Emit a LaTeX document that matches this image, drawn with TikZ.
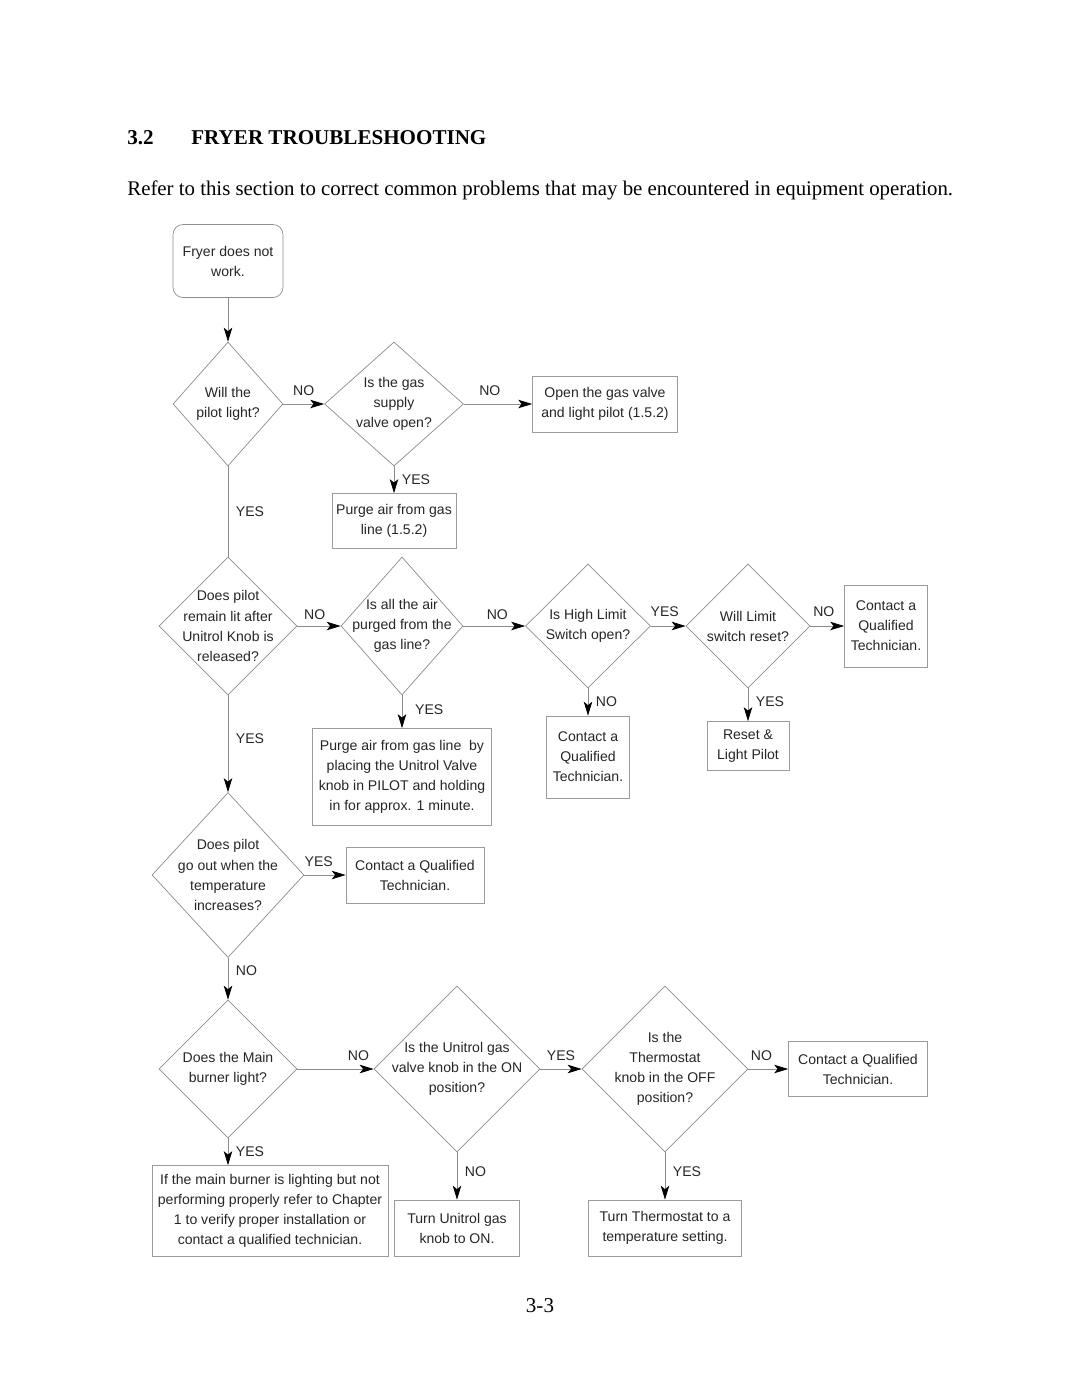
\documentclass[tikz,border=0pt]{standalone}
\usepackage{fontspec}
\setmainfont{Liberation Serif}
\newfontfamily\chartfont{Liberation Sans}
\usetikzlibrary{arrows.meta, shapes.geometric}

\definecolor{linegray}{RGB}{140,140,140}
\definecolor{boxgray}{RGB}{155,155,155}

\begin{document}
\begin{tikzpicture}[
            x = 0.02cm, y = -0.02cm, % one unit = one pixel of the page
            > = {Stealth[black, length=2.8mm, width=1.7mm, inset=0.7mm]}, % arrow head style
            every node/.style = {font=\chartfont\fontsize{8}{11.4}\selectfont, text=black!85},
            thin % line style
        ]

        \tikzstyle{decision}=[
            draw = linegray,
            shape = diamond,
            align = center,
            inner sep = -14pt
        ]
        \tikzstyle{action}=[
            draw = boxgray,
            rectangle,
            align = center,
            inner sep = 2pt
        ]
        \tikzstyle{flow}=[draw = linegray, ->]

        \useasboundingbox (0,0) rectangle (1080,1397);

        % heading
        \node[anchor=base west, inner sep=0pt, text=black, font=\bfseries\fontsize{12}{14}\selectfont] (secnum) at (127,144) {3.2};
        \node[anchor=base west, inner sep=0pt, text=black, font=\bfseries\fontsize{12}{14}\selectfont] (title) at (191,144) {FRYER TROUBLESHOOTING};
        \node[anchor=base west, inner sep=0pt, text=black, font=\fontsize{11.86}{14}\selectfont] (intro) at (127,195) {Refer to this section to correct common problems that may be encountered in equipment operation.};

        % first rows
        \node[action, draw=linegray, rounded corners=2mm, minimum width=2.2cm, minimum height=1.46cm] (start) at (228,261) {Fryer does not\\work.};
        \node[decision, minimum width=2.2cm, minimum height=2.48cm] (pilot) at (228,404) {Will the\\pilot light?};
        \node[decision, minimum width=2.78cm, minimum height=2.48cm] (supply) at (394,404) {Is the gas\\supply\\valve open?};
        \node[action, minimum width=2.9cm, minimum height=1.12cm] (opengas) at (605,404) {Open the gas valve\\and light pilot (1.5.2)};
        \node[action, minimum width=2.48cm, minimum height=1.1cm] (purgeline) at (394,521) {Purge air from gas\\line (1.5.2)};

        \node[decision, minimum width=2.76cm, minimum height=2.76cm] (remain) at (228,626) {Does pilot\\remain lit after\\Unitrol Knob is\\released?};
        \node[decision, minimum width=2.44cm, minimum height=2.76cm] (purged) at (402,626) {Is all the air\\purged from the\\gas line?};
        \node[decision, minimum width=2.5cm, minimum height=2.48cm] (highlimit) at (588,626) {Is High Limit\\Switch open?};
        \node[decision, minimum width=2.48cm, minimum height=2.48cm] (reset) at (748,626) {Will Limit\\switch reset?};
        \node[action, minimum width=1.66cm, minimum height=1.64cm] (techA) at (886,626) {Contact a\\Qualified\\Technician.};
        \node[action, minimum width=1.66cm, minimum height=1.64cm] (techB) at (588,757) {Contact a\\Qualified\\Technician.};
        \node[action, minimum width=1.64cm, minimum height=0.98cm] (relight) at (748,746) {Reset \&\\Light Pilot};
        \node[action, minimum width=3.58cm, minimum height=1.94cm] (purgeknob) at (402,777) {Purge air from gas line\ \ by\\placing the Unitrol Valve\\knob in PILOT and holding\\in for approx. 1 minute.};

        \node[decision, minimum width=3.04cm, minimum height=3.3cm] (goesout) at (228,875) {Does pilot\\go out when the\\temperature\\increases?};
        \node[action, minimum width=2.76cm, minimum height=1.12cm] (techC) at (415,875) {Contact a Qualified\\Technician.};

        % bottom row
        \node[decision, minimum width=2.76cm, minimum height=2.76cm] (burner) at (228,1069) {Does the Main\\burner light?};
        \node[decision, minimum width=3.32cm, minimum height=3.32cm] (unitrol) at (457,1069) {Is the Unitrol gas\\valve knob in the ON\\position?};
        \node[decision, minimum width=3.32cm, minimum height=3.32cm] (thermo) at (665,1069) {Is the\\Thermostat\\knob in the OFF\\position?};
        \node[action, minimum width=2.78cm, minimum height=1.1cm] (techD) at (858,1069) {Contact a Qualified\\Technician.};
        \node[action, minimum width=4.72cm, minimum height=1.82cm] (chapter) at (270,1211) {If the main burner is lighting but not\\performing properly refer to Chapter\\1 to verify proper installation or\\contact a qualified technician.};
        \node[action, minimum width=2.5cm, minimum height=1.12cm] (turnon) at (457,1228) {Turn Unitrol gas\\knob to ON.};
        \node[action, minimum width=3.06cm, minimum height=1.12cm] (turnthermo) at (665,1228) {Turn Thermostat to a\\temperature setting.};

        \node[anchor=base, inner sep=0pt, text=black, font=\fontsize{12}{14}\selectfont] (pagenum) at (540,1312) {3-3};

        % connectors
        \path[flow] (start) edge (pilot);
        \path[flow] (pilot) edge node[above=1pt] {NO} (supply);
        \path[flow] (supply) edge node[above=1pt, pos=0.38] {NO} (opengas);
        \path[flow] (supply) edge node[right=1pt] {YES} (purgeline);
        \path[draw=linegray] (pilot) edge node[right=1pt] {YES} (remain);

        \path[flow] (remain) edge node[above=0pt, pos=0.4] {NO} (purged);
        \path[flow] (purged) edge node[above=0pt, pos=0.55] {NO} (highlimit);
        \path[flow] (highlimit) edge node[above=2pt, pos=0.4] {YES} (reset);
        \path[flow] (reset) edge node[above=2pt, pos=0.4] {NO} (techA);
        \path[flow] (highlimit) edge node[right=1pt] {NO} (techB);
        \path[flow] (reset) edge node[right=1pt, pos=0.4] {YES} (relight);
        \path[flow] (purged) edge node[right=4pt, pos=0.45] {YES} (purgeknob);
        \path[flow] (remain) edge node[right=1pt, pos=0.45] {YES} (goesout);

        \path[flow] (goesout) edge node[above=1pt, pos=0.35] {YES} (techC);
        \path[flow] (goesout) edge node[right=1pt, pos=0.3] {NO} (burner);

        \path[flow] (burner) edge node[above=1pt, pos=0.8] {NO} (unitrol);
        \path[flow] (unitrol) edge node[above=1pt] {YES} (thermo);
        \path[flow] (thermo) edge node[above=1pt, pos=0.33] {NO} (techD);
        \path[flow] (burner) edge node[right=1pt] {YES} (burner |- chapter.north);
        \path[flow] (unitrol) edge node[right=1pt, pos=0.4] {NO} (turnon);
        \path[flow] (thermo) edge node[right=1pt, pos=0.4] {YES} (turnthermo);

    \end{tikzpicture}
\end{document}
